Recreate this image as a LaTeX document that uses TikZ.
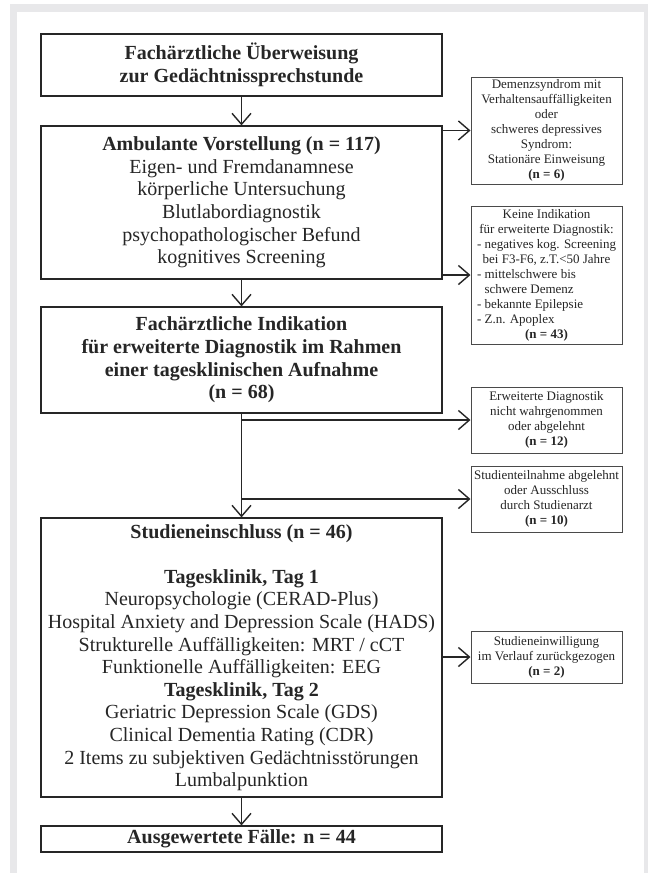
\documentclass[tikz,border=0pt]{standalone}
\usepackage{fontspec}
\setmainfont{Liberation Serif}
\usetikzlibrary{arrows.meta}
\definecolor{framegray}{HTML}{E8E8EA}
\definecolor{ink}{HTML}{262626}
\definecolor{sideline}{HTML}{4A4A4A}
\begin{document}
\begin{tikzpicture}[x=1pt,y=-1pt,
  mainbox/.style={draw=ink, line width=1.2pt, minimum width=401pt, inner sep=0pt,
    align=center, text=ink, font=\fontsize{20}{22.6}\selectfont},
  sidebox/.style={draw=sideline, line width=1pt, minimum width=151pt, inner sep=0pt,
    align=center, text=ink, font=\fontsize{13}{15}\selectfont},
  arr/.style={draw=ink, line width=1.4pt,
    -{Straight Barb[length=11pt,width=19pt]}}]
\useasboundingbox (0,0) rectangle (648,873);
\fill[white] (0,0) rectangle (648,873);
\fill[framegray] (10,4) rectangle (648,873);
\fill[white] (17,12) rectangle (644,873);

% main column
\node[mainbox, minimum height=62pt] (b1) at (241.5,65)
  {\textbf{Fachärztliche Überweisung}\\\textbf{zur Gedächtnissprechstunde}};
\node[mainbox, minimum height=153pt] (b2) at (241.5,202.5)
  {\textbf{Ambulante Vorstellung (n = 117)}\\Eigen- und Fremdanamnese\\körperliche Untersuchung\\Blutlabordiagnostik\\psychopathologischer Befund\\kognitives Screening};
\node[mainbox, minimum height=106pt] (b3) at (241.5,360)
  {\textbf{Fachärztliche Indikation}\\\textbf{für erweiterte Diagnostik im Rahmen}\\\textbf{einer tagesklinischen Aufnahme}\\\textbf{(n = 68)}};
\node[mainbox, minimum height=279pt] (b4) at (241.5,657.5)
  {\textbf{Studieneinschluss (n = 46)}\\\mbox{}\\\textbf{Tagesklinik, Tag 1}\\Neuropsychologie (CERAD-Plus)\\Hospital Anxiety and Depression Scale (HADS)\\Strukturelle Auffälligkeiten: MRT / cCT\\Funktionelle Auffälligkeiten: EEG\\\textbf{Tagesklinik, Tag 2}\\Geriatric Depression Scale (GDS)\\Clinical Dementia Rating (CDR)\\2 Items zu subjektiven Gedächtnisstörungen\\Lumbalpunktion};
\node[mainbox, minimum height=26pt] (b5) at (241.5,839)
  {\textbf{Ausgewertete Fälle: n = 44}};

% side boxes
\node[sidebox, minimum height=107pt] (r1) at (546.5,130.5)
  {Demenzsyndrom mit\\Verhaltensauffälligkeiten\\oder\\schweres depressives\\Syndrom:\\Stationäre Einweisung\\\textbf{(n = 6)}};
\node[sidebox, minimum height=138pt] (r2) at (546.5,275)
  {\begin{tabular}{@{}l@{}}
   \multicolumn{1}{@{}c@{}}{Keine Indikation}\\
   \multicolumn{1}{@{}c@{}}{für erweiterte Diagnostik:}\\
   - negatives kog. Screening\\
   \multicolumn{1}{@{}c@{}}{bei F3-F6, z.T.<50 Jahre}\\
   - mittelschwere bis\\
   \phantom{- }schwere Demenz\\
   - bekannte Epilepsie\\
   - Z.n. Apoplex\\
   \multicolumn{1}{@{}c@{}}{\textbf{(n = 43)}}
   \end{tabular}};
\node[sidebox, minimum height=66pt] (r3) at (546.5,420)
  {Erweiterte Diagnostik\\nicht wahrgenommen\\oder abgelehnt\\\textbf{(n = 12)}};
\node[sidebox, minimum height=66pt] (r4) at (546.5,499)
  {Studienteilnahme abgelehnt\\oder Ausschluss\\durch Studienarzt\\\textbf{(n = 10)}};
\node[sidebox, minimum height=52pt] (r5) at (546.5,657)
  {Studieneinwilligung\\im Verlauf zurückgezogen\\\textbf{(n = 2)}};

% connectors
\draw[arr] (b1.south) -- (b2.north);
\draw[arr] (b2.south) -- (b3.north);
\draw[arr] (b3.south) -- (b4.north);
\draw[arr] (b4.south) -- (b5.north);
\draw[arr] (b2.east |- r1.west) -- (r1.west);
\draw[arr] (b2.east |- r2.west) -- (r2.west);
\draw[arr] (b3.south |- r3.west) -- (r3.west);
\draw[arr] (b3.south |- r4.west) -- (r4.west);
\draw[arr] (b4.east |- r5.west) -- (r5.west);
\end{tikzpicture}
\end{document}
